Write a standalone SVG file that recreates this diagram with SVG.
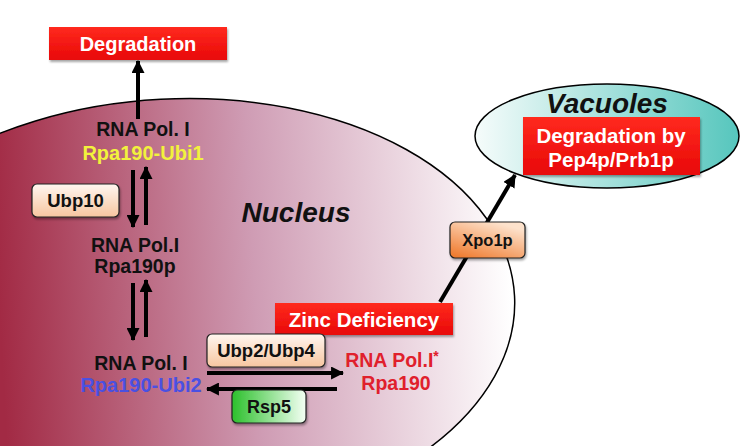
<svg xmlns="http://www.w3.org/2000/svg" width="750" height="446" viewBox="0 0 750 446">
<defs>
<linearGradient id="gNuc" gradientUnits="userSpaceOnUse" x1="0" y1="0" x2="512" y2="0">
<stop offset="0" stop-color="#a22a44"/>
<stop offset="0.5" stop-color="#cf9cb4"/>
<stop offset="1" stop-color="#ffffff"/>
</linearGradient>
<linearGradient id="gVac" x1="0" y1="0" x2="1" y2="0">
<stop offset="0" stop-color="#f6fcfb"/>
<stop offset="1" stop-color="#56c6bd"/>
</linearGradient>
<linearGradient id="gRed" x1="0" y1="0" x2="0" y2="1">
<stop offset="0" stop-color="#ff2a1e"/>
<stop offset="1" stop-color="#e80808"/>
</linearGradient>
<linearGradient id="gPeach" x1="0" y1="0" x2="0" y2="1">
<stop offset="0" stop-color="#fff6f0"/>
<stop offset="1" stop-color="#f7c6a0"/>
</linearGradient>
<linearGradient id="gOrange" x1="0" y1="1" x2="0.6" y2="0">
<stop offset="0" stop-color="#ee7424"/>
<stop offset="1" stop-color="#fde2cc"/>
</linearGradient>
<linearGradient id="gGreen" x1="0" y1="0" x2="1" y2="0">
<stop offset="0" stop-color="#2cc02c"/>
<stop offset="1" stop-color="#f4fff4"/>
</linearGradient>
<filter id="sh" x="-10%" y="-10%" width="130%" height="140%">
<feDropShadow dx="1" dy="2" stdDeviation="1.2" flood-color="#000" flood-opacity="0.35"/>
</filter>
<marker id="ah" viewBox="0 0 12 12" refX="11" refY="6" markerWidth="13" markerHeight="13" markerUnits="userSpaceOnUse" orient="auto">
<path d="M0,0 L12,6 L0,12 z" fill="#000"/>
</marker>
<style>
text{font-family:"Liberation Sans",Arial,sans-serif;font-weight:bold;text-anchor:middle}
.w{fill:#fff}
.k{fill:#111}
.red{fill:url(#gRed);filter:url(#sh)}
.rb{stroke:#222;stroke-width:1.2}
.ln{stroke:#000;stroke-width:4;fill:none;marker-end:url(#ah)}
</style>
</defs>
<rect width="750" height="446" fill="#fff"/>
<g id="nucleus">
<ellipse cx="172" cy="314" rx="343" ry="215" transform="rotate(-3 172 314)" fill="url(#gNuc)" stroke="#000" stroke-width="1.5"/>
<text x="296" y="222" font-size="28" font-style="italic" class="k">Nucleus</text>
</g>
<g id="vacuoles">
<ellipse cx="607" cy="136" rx="132" ry="52" fill="url(#gVac)" stroke="#000" stroke-width="1.5"/>
<text x="607" y="113" font-size="28" font-style="italic" class="k">Vacuoles</text>
</g>
<g id="connectors">
<line x1="138" y1="119" x2="138" y2="61" class="ln"/>
<line x1="133" y1="170" x2="133" y2="227" class="ln"/>
<line x1="146" y1="225" x2="146" y2="167" class="ln"/>
<line x1="133" y1="283" x2="133" y2="340" class="ln"/>
<line x1="146" y1="337" x2="146" y2="280" class="ln"/>
<line x1="207" y1="373" x2="343" y2="373" class="ln"/>
<line x1="337" y1="389" x2="207" y2="389" class="ln"/>
<line x1="440" y1="302" x2="515" y2="175" class="ln"/>
</g>
<g id="degradation">
<rect x="49" y="27" width="178" height="33" class="red"/>
<text x="138" y="51" font-size="20" class="w">Degradation</text>
</g>
<g id="vac-degradation">
<rect x="523" y="117" width="177" height="58" class="red"/>
<text x="611" y="143" font-size="20.5" class="w">Degradation by</text>
<text x="611" y="167" font-size="20.5" class="w">Pep4p/Prb1p</text>
</g>
<g id="zinc">
<rect x="275" y="303" width="178" height="32" class="red"/>
<text x="364" y="327" font-size="20.5" class="w">Zinc Deficiency</text>
</g>
<g id="pol-ubi1">
<text x="143" y="136" font-size="19.5" class="k">RNA Pol. I</text>
<text x="143" y="160" font-size="20" fill="#f2f23c">Rpa190-Ubi1</text>
</g>
<g id="pol-rpa190p">
<text x="135" y="252" font-size="19.5" class="k">RNA Pol.I</text>
<text x="135" y="273" font-size="19.5" class="k">Rpa190p</text>
</g>
<g id="pol-ubi2">
<text x="141" y="370" font-size="19.5" class="k">RNA Pol. I</text>
<text x="141" y="392" font-size="20" fill="#4a50e2">Rpa190-Ubi2</text>
</g>
<g id="pol-star">
<text x="392" y="367" font-size="19.5" fill="#e0202c">RNA Pol.I<tspan font-size="14" dy="-6">*</tspan></text>
<text x="396" y="390" font-size="19.5" fill="#e0202c">Rpa190</text>
</g>
<g id="ubp10">
<rect x="32" y="184" width="87" height="33" rx="5" fill="url(#gPeach)" class="rb" filter="url(#sh)"/>
<text x="75.5" y="207" font-size="18.5" class="k">Ubp10</text>
</g>
<g id="ubp2">
<rect x="207" y="334" width="118" height="33" rx="5" fill="url(#gPeach)" class="rb" filter="url(#sh)"/>
<text x="266" y="357" font-size="18.5" class="k">Ubp2/Ubp4</text>
</g>
<g id="rsp5">
<rect x="232" y="390" width="74" height="33" rx="5" fill="url(#gGreen)" class="rb" filter="url(#sh)"/>
<text x="269" y="413" font-size="18" class="k">Rsp5</text>
</g>
<g id="xpo1p">
<rect x="450" y="222" width="75" height="36" rx="5" fill="url(#gOrange)" class="rb" filter="url(#sh)"/>
<text x="487.5" y="246" font-size="16.5" class="k">Xpo1p</text>
</g>
</svg>
